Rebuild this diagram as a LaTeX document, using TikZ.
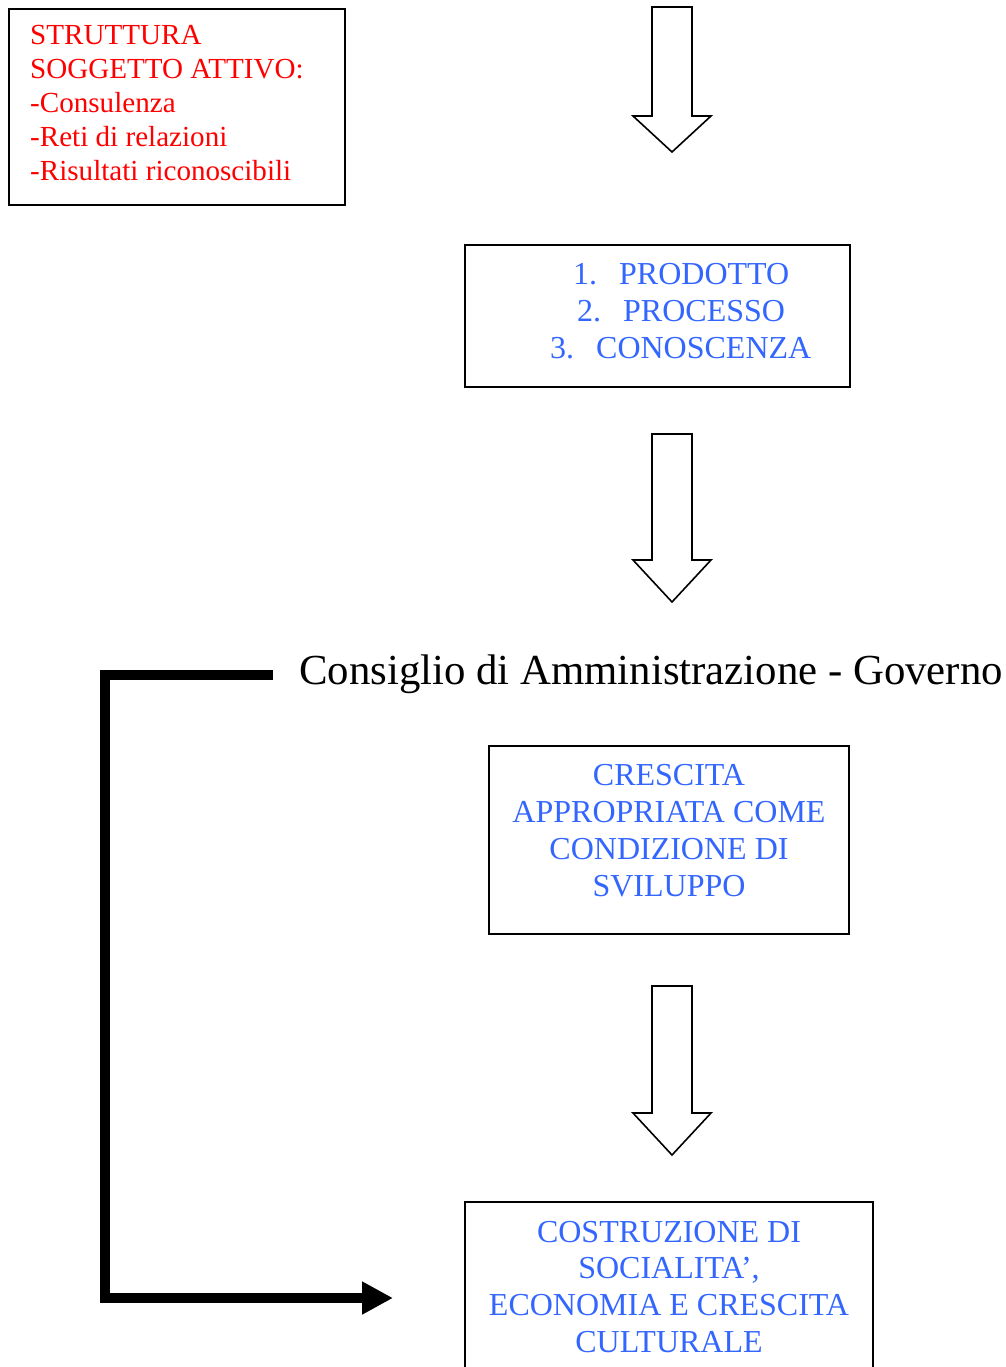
\documentclass[tikz,border=0pt]{standalone}
\usepackage{fontspec}
\setmainfont{Liberation Serif}
\usetikzlibrary{arrows.meta}
\definecolor{txtblue}{RGB}{51,102,255}
\definecolor{txtred}{RGB}{255,0,0}
\begin{document}
\begin{tikzpicture}[x=1pt,y=-1pt,
  frame/.style={draw=black,line width=1.6pt,inner sep=0pt},
  redline/.style={anchor=base west,inner sep=0pt,text=txtred,font=\fontsize{29.1}{34}\selectfont},
  blueline/.style={anchor=base,inner sep=0pt,text=txtblue,font=\fontsize{32}{37}\selectfont},
  bluelist/.style={anchor=base west,inner sep=0pt,text=txtblue,font=\fontsize{32}{37}\selectfont},
  blockarrow/.style={draw=black,line width=1.6pt,fill=white,line join=miter},
  feedback/.style={line width=10pt,line join=miter,-{Triangle[length=31pt,width=31pt]}}]
\useasboundingbox (0,0) rectangle (1005,1367);

% red box
\node[frame,minimum width=336pt,minimum height=196pt] (struttura) at (177,107) {};
\node[redline] (r1) at (30,45) {STRUTTURA};
\node[redline] (r2) at (30,79) {SOGGETTO ATTIVO:};
\node[redline] (r3) at (30,112.5) {-Consulenza};
\node[redline] (r4) at (30,147) {-Reti di relazioni};
\node[redline] (r5) at (30,181) {-Risultati riconoscibili};

% block arrow 1
\draw[blockarrow] (652,7) -- (692,7) -- (692,116) -- (711,116) -- (672,152) -- (633,116) -- (652,116) -- cycle;

% box prodotto
\node[frame,minimum width=385pt,minimum height=142pt] (prodotto) at (657.5,316) {};
\node[bluelist] (p1) at (573,284) {1.\hspace{22pt}PRODOTTO};
\node[bluelist] (p2) at (577,321) {2.\hspace{22pt}PROCESSO};
\node[bluelist] (p3) at (550,358) {3.\hspace{22pt}CONOSCENZA};

% block arrow 2
\draw[blockarrow] (652,434) -- (692,434) -- (692,560) -- (711,560) -- (672,602) -- (633,560) -- (652,560) -- cycle;

% Consiglio
\node[anchor=base west,inner sep=0pt,font=\fontsize{42.8}{48}\selectfont] (consiglio) at (299,684) {Consiglio di Amministrazione - Governo};

% box crescita
\node[frame,minimum width=360pt,minimum height=188pt] (crescita) at (669,840) {};
\node[blueline] (c1) at (669,785) {CRESCITA};
\node[blueline] (c2) at (669,822) {APPROPRIATA COME};
\node[blueline] (c3) at (669,859) {CONDIZIONE DI};
\node[blueline] (c4) at (669,896) {SVILUPPO};

% block arrow 3
\draw[blockarrow] (652,986) -- (692,986) -- (692,1113) -- (711,1113) -- (672,1155) -- (633,1113) -- (652,1113) -- cycle;

% box costruzione (cut by the page edge)
\node[inner sep=0pt,minimum width=408pt,minimum height=165pt] (costruzione) at (669,1284.5) {};
\draw[black,line width=1.6pt,line join=miter] (costruzione.south west) -- (costruzione.north west) -- (costruzione.north east) -- (costruzione.south east);
\node[blueline] (k1) at (669,1242) {COSTRUZIONE DI};
\node[blueline] (k2) at (669,1278) {SOCIALITA’,};
\node[blueline] (k3) at (669,1315) {ECONOMIA E CRESCITA};
\node[blueline] (k4) at (669,1352) {CULTURALE};

% feedback connector
\coordinate (fbstart) at (273,675);
\coordinate (fbend) at (393,1298);
\draw[feedback] (fbstart) -- (105,675) -- (105,1298) -- (fbend);
\end{tikzpicture}
\end{document}
